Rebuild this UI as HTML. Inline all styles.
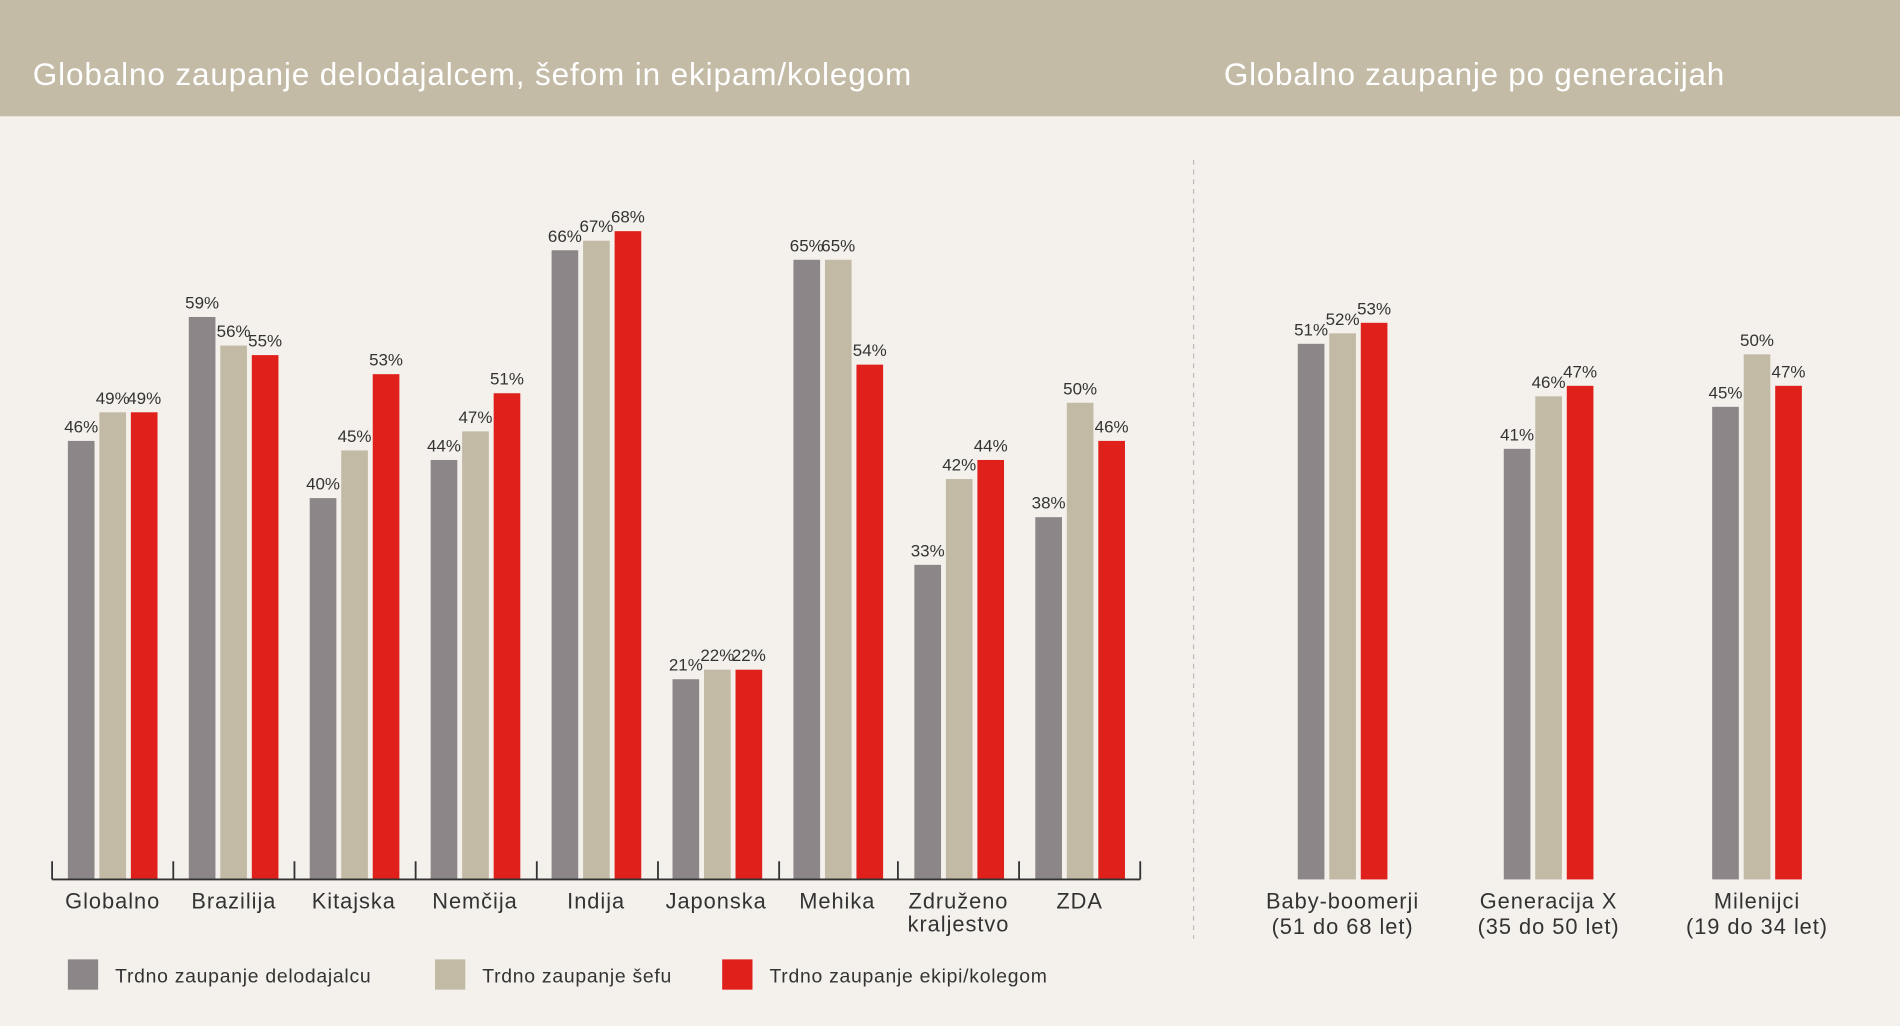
<!DOCTYPE html>
<html><head><meta charset="utf-8"><style>
html,body{margin:0;padding:0;background:#f4f1ed;}
svg{display:block;font-family:"Liberation Sans",sans-serif;}
</style></head><body>
<svg width="1900" height="1026" viewBox="0 0 1568 847" preserveAspectRatio="none" xmlns="http://www.w3.org/2000/svg">
<rect x="0" y="0" width="1568" height="847" fill="#f4f1ed"/>
<rect x="0" y="0" width="1568" height="96" fill="#c4bba6"/>
<text x="27" y="70" font-size="26" fill="#fff" textLength="725" lengthAdjust="spacing">Globalno zaupanje delodajalcem, šefom in ekipam/kolegom</text>
<text x="1010" y="70" font-size="26" fill="#fff" textLength="413" lengthAdjust="spacing">Globalno zaupanje po generacijah</text>
<line x1="985" y1="132" x2="985" y2="775" stroke="#bbb" stroke-dasharray="4,4"/>
<g id="left"></g>
<g id="right"></g>
<line x1="43" y1="726" x2="941" y2="726" stroke="#333" stroke-width="1.5"/>
<g stroke="#333" stroke-width="1.5">
<line x1="43" y1="711" x2="43" y2="726"/><line x1="143" y1="711" x2="143" y2="726"/><line x1="243" y1="711" x2="243" y2="726"/><line x1="343" y1="711" x2="343" y2="726"/><line x1="443" y1="711" x2="443" y2="726"/><line x1="543" y1="711" x2="543" y2="726"/><line x1="643" y1="711" x2="643" y2="726"/><line x1="741" y1="711" x2="741" y2="726"/><line x1="841" y1="711" x2="841" y2="726"/><line x1="941" y1="711" x2="941" y2="726"/>
</g>
<g font-size="18" fill="#333" text-anchor="middle" letter-spacing="0.8">
<text x="93" y="750">Globalno</text><text x="193" y="750">Brazilija</text><text x="292" y="750">Kitajska</text><text x="392" y="750">Nemčija</text><text x="492" y="750">Indija</text><text x="591" y="750">Japonska</text><text x="691" y="750">Mehika</text><text x="791" y="750">Združeno</text><text x="791" y="769">kraljestvo</text><text x="891" y="750">ZDA</text>
<text x="1108" y="750">Baby-boomerji</text><text x="1108" y="771">(51 do 68 let)</text>
<text x="1278" y="750">Generacija X</text><text x="1278" y="771">(35 do 50 let)</text>
<text x="1450" y="750">Milenijci</text><text x="1450" y="771">(19 do 34 let)</text>
</g>
<rect x="56" y="792" width="25" height="25" fill="#8c8688"/>
<rect x="359" y="792" width="25" height="25" fill="#c2baa5"/>
<rect x="596" y="792" width="25" height="25" fill="#e0201b"/>
<g font-size="16" fill="#333" letter-spacing="0.6">
<text x="95" y="811">Trdno zaupanje delodajalcu</text>
<text x="398" y="811">Trdno zaupanje šefu</text>
<text x="635" y="811">Trdno zaupanje ekipi/kolegom</text>
</g>
<script>
var C=["#8c8688","#c2baa5","#e0201b"],ns="http://www.w3.org/2000/svg";
function bar(g,x,v,s,c){var h=v*s,r=document.createElementNS(ns,"rect");r.setAttribute("x",x);r.setAttribute("y",726-h);r.setAttribute("width",22);r.setAttribute("height",h);r.setAttribute("fill",c);g.appendChild(r);
var t=document.createElementNS(ns,"text");t.setAttribute("x",x+11);t.setAttribute("y",726-h-7);t.setAttribute("font-size","14");t.setAttribute("fill","#333");t.setAttribute("text-anchor","middle");t.textContent=v+"%";g.appendChild(t);}
var L=[[46,49,49],[59,56,55],[40,45,53],[44,47,51],[66,67,68],[21,22,22],[65,65,54],[33,42,44],[38,50,46]];
var gl=document.getElementById("left");
L.forEach(function(d,i){d.forEach(function(v,j){bar(gl,56+99.8*i+26*j,v,7.87,C[j]);});});
var R=[[51,52,53],[41,46,47],[45,50,47]],X=[1071,1241,1413],gr=document.getElementById("right");
R.forEach(function(d,i){d.forEach(function(v,j){bar(gr,X[i]+26*j,v,8.67,C[j]);});});
</script>
</svg>
</body></html>
